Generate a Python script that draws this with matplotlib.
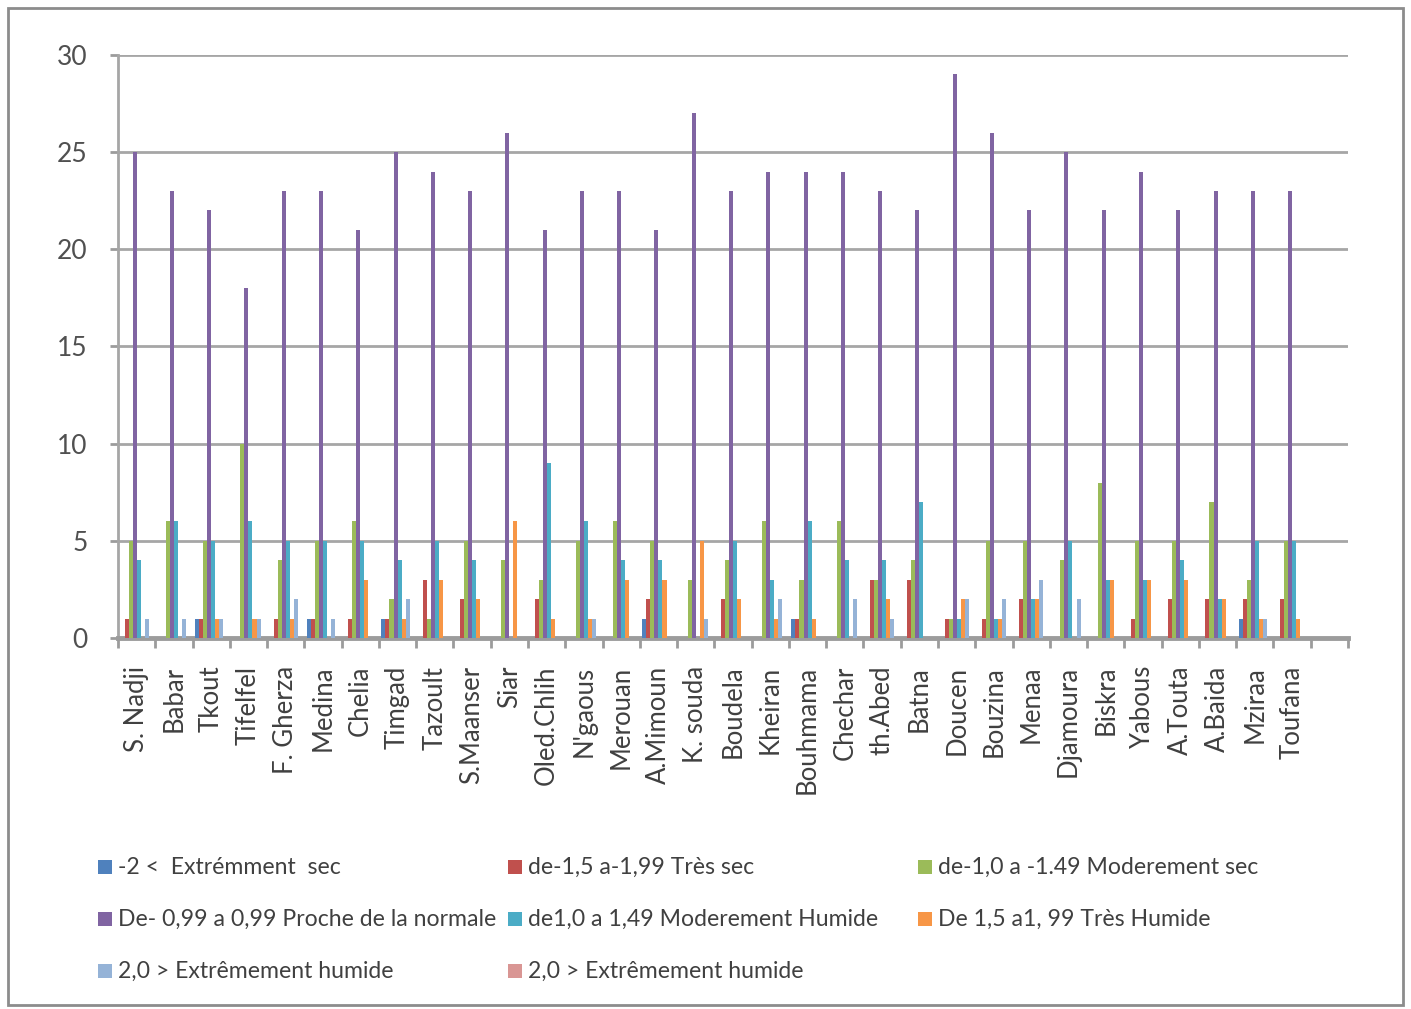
import numpy as np
import matplotlib
matplotlib.use("Agg")
import matplotlib.pyplot as plt
from matplotlib.patches import Rectangle

plt.rcParams['font.family'] = ['Lato', 'DejaVu Sans']

# stations (last slot is an empty category)
stations = ["S. Nadji", "Babar", "Tkout", "Tifelfel", "F. Gherza", "Medina", "Chelia",
            "Timgad", "Tazoult", "S.Maanser", "Siar", "Oled.Chlih", "N'gaous", "Merouan",
            "A.Mimoun", "K. souda", "Boudela", "Kheiran", "Bouhmama", "Chechar", "th.Abed",
            "Batna", "Doucen", "Bouzina", "Menaa", "Djamoura", "Biskra", "Yabous",
            "A.Touta", "A.Baida", "Mziraa", "Toufana", ""]

# number of occurrences per SPI class
ext_sec = [0, 0, 1, 0, 0, 1, 0, 1, 0, 0, 0, 0, 0, 0, 1, 0, 0, 0, 1, 0, 0,
           0, 0, 0, 0, 0, 0, 0, 0, 0, 1, 0, 0]
tres_sec = [1, 0, 1, 0, 1, 1, 1, 1, 3, 2, 0, 2, 0, 0, 2, 0, 2, 0, 1, 0, 3,
            3, 1, 1, 2, 0, 0, 1, 2, 2, 2, 2, 0]
mod_sec = [5, 6, 5, 10, 4, 5, 6, 2, 1, 5, 4, 3, 5, 6, 5, 3, 4, 6, 3, 6, 3,
           4, 1, 5, 5, 4, 8, 5, 5, 7, 3, 5, 0]
normale = [25, 23, 22, 18, 23, 23, 21, 25, 24, 23, 26, 21, 23, 23, 21, 27, 23, 24, 24, 24, 23,
           22, 29, 26, 22, 25, 22, 24, 22, 23, 23, 23, 0]
mod_hum = [4, 6, 5, 6, 5, 5, 5, 4, 5, 4, 0, 9, 6, 4, 4, 0, 5, 3, 6, 4, 4,
           7, 1, 1, 2, 5, 3, 3, 4, 2, 5, 5, 0]
tres_hum = [0, 0, 1, 1, 1, 0, 3, 1, 3, 2, 6, 1, 1, 3, 3, 5, 2, 1, 1, 0, 2,
            0, 2, 1, 2, 0, 3, 3, 3, 2, 1, 1, 0]
ext_hum = [1, 1, 1, 1, 2, 1, 0, 2, 0, 0, 0, 0, 1, 0, 0, 1, 0, 2, 0, 2, 1,
           0, 2, 2, 3, 2, 0, 0, 0, 0, 1, 0, 0]
ext_hum2 = [0] * 33

series = [ext_sec, tres_sec, mod_sec, normale, mod_hum, tres_hum, ext_hum, ext_hum2]
labels = ["-2 <  Extrémment  sec",
          "de-1,5 a-1,99 Très sec",
          "de-1,0 a -1.49 Moderement sec",
          "De- 0,99 a 0,99 Proche de la normale",
          "de1,0 a 1,49 Moderement Humide",
          "De 1,5 a1, 99 Très Humide",
          "2,0 > Extrêmement humide",
          "2,0 > Extrêmement humide"]
colors = ["#4F81BD", "#C0504D", "#9BBB59", "#8064A2", "#4BACC6", "#F79646",
          "#95B3D7", "#D99694"]

W, H = 1411, 1009
fig = plt.figure(figsize=(W / 100, H / 100), dpi=100)
fig.patches.append(Rectangle((8 / W, 4 / H), 1395 / W, 997 / H, transform=fig.transFigure,
                             fill=False, edgecolor="#8C8C8C", linewidth=2))

ax = fig.add_axes([118 / W, 371 / H, 1230 / W, 583 / H])
x = np.arange(len(stations))
bw = 0.108
for i, (vals, c) in enumerate(zip(series, colors)):
    ax.bar(x + (i - 3.5) * bw, vals, width=bw, color=c, edgecolor="none", zorder=3)

ax.set_xlim(-0.5, len(stations) - 0.5)
ax.set_ylim(0, 30)
ax.set_yticks(range(0, 31, 5))
ax.yaxis.grid(True, color="#A6A6A6", linewidth=2, zorder=0)
ax.set_axisbelow(True)

ax.set_xticks(x)
ax.set_xticklabels(stations, rotation=90, fontsize=18.5, color="#404040", va="top")
ax.set_xticks(np.arange(-0.5, len(stations)), minor=True)
ax.tick_params(axis="x", which="major", length=0, pad=20)
ax.tick_params(axis="x", which="minor", length=7, width=2, color="#9C9C9C")
ax.tick_params(axis="y", length=6, width=2, color="#9C9C9C", pad=16,
               labelsize=19, labelcolor="#505050")

for s in ("top", "right"):
    ax.spines[s].set_visible(False)
ax.spines["left"].set_color("#A6A6A6")
ax.spines["left"].set_linewidth(2)
ax.spines["bottom"].set_color("#9C9C9C")
ax.spines["bottom"].set_linewidth(3.5)

# legend laid out row by row, three columns
col_x = [98, 508, 918]
row_y = [867, 919, 971]
for k, (lab, c) in enumerate(zip(labels, colors)):
    cx = col_x[k % 3]
    cy = row_y[k // 3]
    fig.patches.append(Rectangle((cx / W, (H - cy - 7) / H), 14 / W, 14 / H,
                                 transform=fig.transFigure, facecolor=c, edgecolor="none"))
    fig.text((cx + 20) / W, (H - cy) / H, lab, fontsize=16.6, color="#404040",
             va="center", ha="left")

fig.savefig("out.png", dpi=100)
